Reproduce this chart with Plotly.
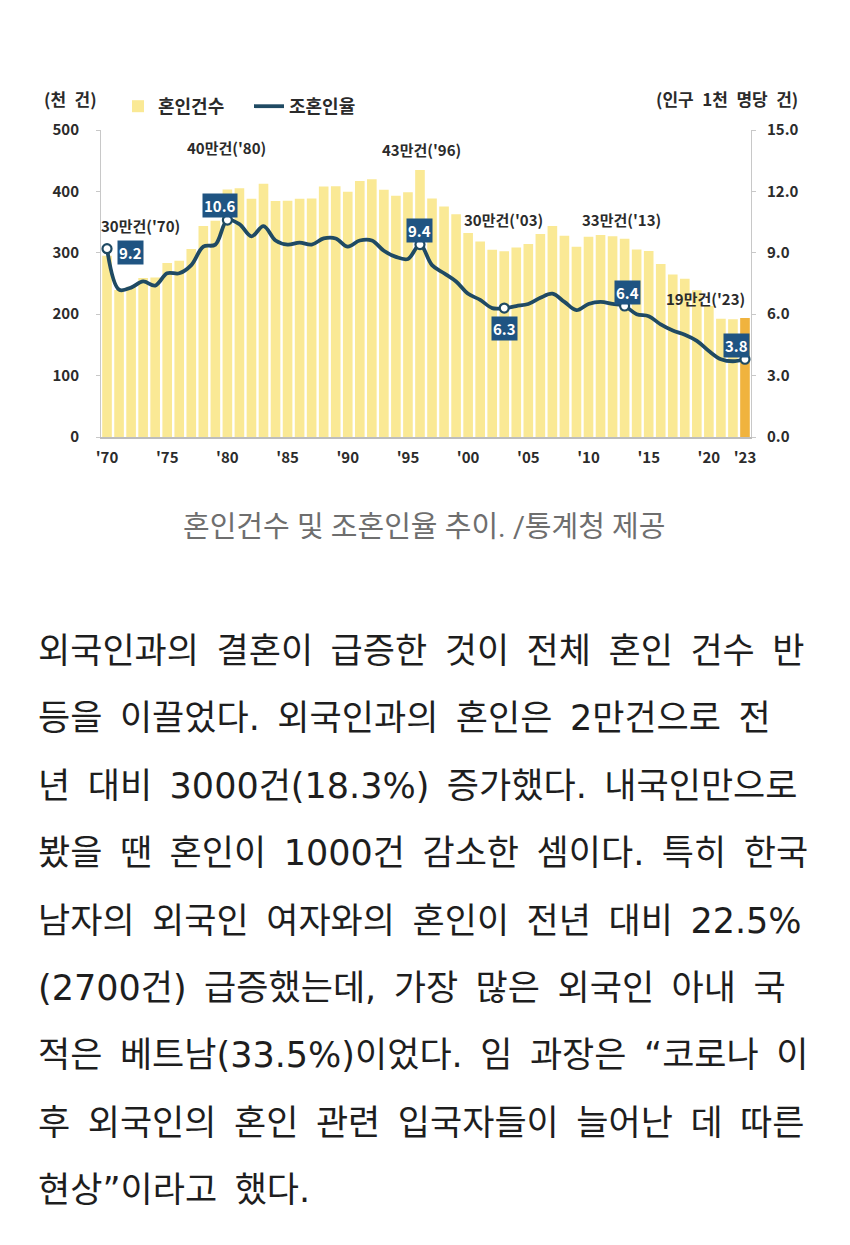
import plotly.graph_objects as go

# 혼인건수 (천 건), 1970-2023
years = list(range(1970, 2024))
marriages = [295.1, 239.5, 244.8, 259.1, 259.6, 283.2, 287.1, 306.1, 343.6, 352.2,
             403.0, 405.3, 388.0, 412.3, 384.2, 384.6, 388.0, 388.5, 407.9, 408.2,
             399.3, 416.9, 419.8, 402.6, 393.1, 398.5, 434.9, 388.6, 375.6, 362.7,
             332.1, 318.4, 304.9, 302.5, 308.6, 314.3, 330.6, 343.6, 327.7, 309.8,
             326.1, 329.1, 327.1, 322.8, 305.5, 302.8, 281.6, 264.5, 257.6, 239.2,
             213.5, 192.5, 191.7, 193.7]
# 조혼인율 (인구 1천 명당 건)
crude_rate = [9.2, 7.2, 7.3, 7.6, 7.4, 8.0, 8.0, 8.4, 9.3, 9.4,
              10.6, 10.4, 9.8, 10.3, 9.6, 9.4, 9.5, 9.4, 9.7, 9.7,
              9.3, 9.6, 9.6, 9.1, 8.8, 8.7, 9.4, 8.4, 8.0, 7.6,
              7.0, 6.7, 6.3, 6.3, 6.4, 6.5, 6.8, 7.0, 6.6, 6.2,
              6.5, 6.6, 6.5, 6.4, 6.0, 5.9, 5.5, 5.2, 5.0, 4.7,
              4.2, 3.8, 3.7, 3.8]

tick_years = [1970, 1975, 1980, 1985, 1990, 1995, 2000, 2005, 2010, 2015, 2020, 2023]
tick_text = ["'70", "'75", "'80", "'85", "'90", "'95", "'00", "'05", "'10", "'15", "'20", "'23"]

# highlighted points on the rate line
mark_years = [1970, 1980, 1996, 2003, 2013, 2023]
mark_labels = ["9.2", "10.6", "9.4", "6.3", "6.4", "3.8"]

# count callouts above the bars
note_text = ["30만건('70)", "40만건('80)", "43만건('96)", "30만건('03)", "33만건('13)", "19만건('23)"]

body_lines = [
    "외국인과의 결혼이 급증한 것이 전체 혼인 건수 반",
    "등을 이끌었다. 외국인과의 혼인은 2만건으로 전",
    "년 대비 3000건(18.3%) 증가했다. 내국인만으로",
    "봤을 땐 혼인이 1000건 감소한 셈이다. 특히 한국",
    "남자의 외국인 여자와의 혼인이 전년 대비 22.5%",
    "(2700건) 급증했는데, 가장 많은 외국인 아내 국",
    "적은 베트남(33.5%)이었다. 임 과장은 “코로나 이",
    "후 외국인의 혼인 관련 입국자들이 늘어난 데 따른",
    "현상”이라고 했다.",
]
caption = "혼인건수 및 조혼인율 추이. /통계청 제공"

W, H = 850, 1245
FONT = "Noto Sans CJK KR"
BODY_FONT = "DejaVu Sans, Noto Sans CJK KR"
CAP_FONT = "Roboto, Noto Sans CJK KR"
BAR = "#FAE995"
BAR_LAST = "#F0B33E"
LINE = "#1F4A63"
BOX = "#1F5482"
DARK = "#2B2B2B"


def px(x):
    return x / W


def py(y):
    return 1 - y / H


def note(x, y, text, size, color=DARK, bold=True, xanchor="center", family=FONT):
    fig.add_annotation(x=px(x), y=py(y), xref="paper", yref="paper", text=text,
                       showarrow=False, xanchor=xanchor, yanchor="middle",
                       font=dict(family=family, size=size, color=color,
                                 weight="bold" if bold else "normal"))


bar_colors = [BAR] * (len(years) - 1) + [BAR_LAST]

fig = go.Figure()
fig.add_trace(go.Bar(x=years, y=marriages, name="혼인건수", marker_color=bar_colors,
                     marker_line_width=0, yaxis="y"))
fig.add_trace(go.Scatter(x=years, y=crude_rate, name="조혼인율", mode="lines",
                         line=dict(color=LINE, width=3.8, shape="spline", smoothing=1.0),
                         yaxis="y2"))

rate_by_year = dict(zip(years, crude_rate))
fig.add_trace(go.Scatter(x=mark_years, y=[rate_by_year[yy] for yy in mark_years],
                         mode="markers", showlegend=False, yaxis="y2",
                         marker=dict(size=9, color="white", line=dict(color=LINE, width=2.2))))

# data-label boxes next to the marked points
shifts = [(23, -4), (-7, 15), (0, 14), (0, -20), (3, 14), (-8, 14)]
for yy, lab, (dx, dy) in zip(mark_years, mark_labels, shifts):
    fig.add_annotation(x=yy, y=rate_by_year[yy], xref="x", yref="y2", text=lab,
                       showarrow=False, xshift=dx, yshift=dy, xanchor="center",
                       yanchor="middle", bgcolor=BOX, borderpad=1,
                       font=dict(family=FONT, size=15, color="white", weight="bold"))

note_pos = [(140, 225), (227, 148), (421, 150), (503, 220), (621, 220), (705, 298)]
for t, (x, y) in zip(note_text, note_pos):
    note(x, y, t, 15)

# axis unit titles
note(70, 98, "(천\u2002건)", 17)
note(800, 98, "(인구\u20021천\u2002명당\u2002건)", 17, xanchor="right")

# caption
note(424, 527, caption, 29, color="#6E6E6E", bold=False, family=CAP_FONT)

# article text (wide word spacing like the source page)
for i, line in enumerate(body_lines):
    note(36, 651 + i * 67.4, line.replace(" ", "\u2002"), 35, color="#1E1E1E",
         bold=False, xanchor="left", family=BODY_FONT)

axis_font = dict(family=FONT, size=15, color=DARK, weight="bold")
fig.update_layout(
    width=W, height=H,
    margin=dict(l=0, r=0, t=0, b=0, autoexpand=False),
    paper_bgcolor="white", plot_bgcolor="white",
    bargap=0.2,
    showlegend=True,
    legend=dict(orientation="h", x=px(118), y=py(88), xanchor="left", yanchor="top",
                font=dict(family=FONT, size=18, color=DARK, weight="bold"),
                itemwidth=30, entrywidth=86, bgcolor="rgba(0,0,0,0)"),
    xaxis=dict(domain=[px(101), px(751)], range=[1969.5, 2023.5], automargin=False,
               tickvals=tick_years, ticktext=tick_text, tickfont=axis_font,
               showline=True, linecolor="#BDBDBD", linewidth=1.5, ticks="",
               showgrid=False, zeroline=False, ticklabelstandoff=6),
    yaxis=dict(domain=[py(437), py(130)], range=[0, 500], dtick=100, automargin=False,
               tickfont=axis_font, showline=True, linecolor="#C8C8C8", linewidth=1,
               ticks="outside", ticklen=4, tickcolor="#C8C8C8",
               showgrid=False, zeroline=False, ticklabelstandoff=14),
    yaxis2=dict(overlaying="y", side="right", range=[0, 15], dtick=3, tickformat=".1f",
                automargin=False, tickfont=axis_font, showline=True, linecolor="#C8C8C8",
                linewidth=1, ticks="outside", ticklen=4, tickcolor="#C8C8C8",
                showgrid=False, zeroline=False, ticklabelstandoff=8),
)

# the page body has a default 8px margin; drop it so the figure sits at the top-left
fig.write_html("out.html", config={"displayModeBar": False},
               post_script="document.body.style.margin='0px';")
